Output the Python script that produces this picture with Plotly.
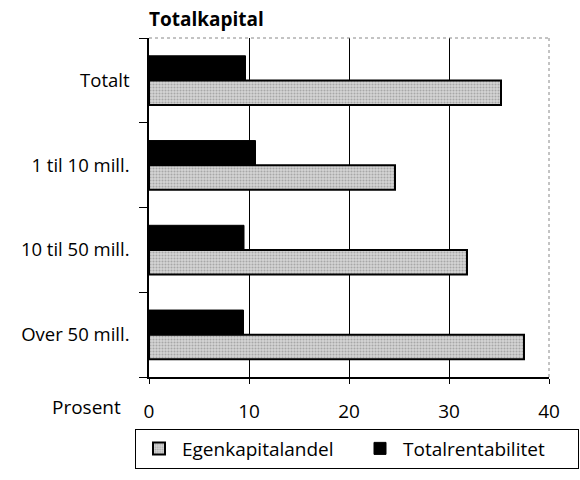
import plotly.graph_objects as go

categories = ["Over 50 mill.", "10 til 50 mill.", "1 til 10 mill.", "Totalt"]
egenkapitalandel = [37.5, 31.8, 24.6, 35.2]
totalrentabilitet = [9.45, 9.5, 10.65, 9.65]
x_ticks = [0, 10, 20, 30, 40]

FONT = "Open Sans"

fig = go.Figure()
fig.add_trace(go.Bar(
    y=categories, x=egenkapitalandel, orientation="h", name="Egenkapitalandel",
    marker=dict(color="#cccccc", line=dict(color="black", width=2),
                pattern=dict(shape=".", fgcolor="#777777", bgcolor="#d6d6d6",
                             size=3, solidity=0.4)),
))
fig.add_trace(go.Bar(
    y=categories, x=totalrentabilitet, orientation="h", name="Totalrentabilitet",
    marker=dict(color="black", line=dict(color="black", width=1)),
))

fig.update_layout(
    width=580, height=480,
    margin=dict(l=149, r=31, t=38, b=87),
    paper_bgcolor="white", plot_bgcolor="white",
    barmode="group", bargap=0.42, bargroupgap=0.0,
    font=dict(family=FONT, size=19, color="black"),
    title=dict(text="<b>Totalkapital</b>", xref="paper", x=0, xanchor="left",
               yref="container", y=0.96, yanchor="middle",
               font=dict(family=FONT, size=19, color="black")),
    xaxis=dict(range=[0, 40], tickvals=x_ticks, showgrid=True, gridcolor="black",
               gridwidth=1, showline=True, linecolor="black", linewidth=1.5,
               ticks="outside", ticklen=5, tickcolor="black", zeroline=False,
               ticklabelstandoff=11, tickfont=dict(size=19), automargin=False),
    yaxis=dict(categoryorder="array", categoryarray=categories, showgrid=False,
               showline=True, linecolor="black", linewidth=1.5,
               ticks="outside", tickson="boundaries", ticklen=8, tickcolor="black",
               ticklabelstandoff=14, tickfont=dict(size=18.5), automargin=False),
    legend=dict(orientation="h", x=-0.035, xanchor="left", y=-0.152, yanchor="top",
                bordercolor="black", borderwidth=1, bgcolor="white",
                font=dict(size=19), itemwidth=36, entrywidth=170,
                entrywidthmode="pixels", traceorder="normal"),
    showlegend=True,
)

# plot frame: dotted grey top and right edges
fig.add_shape(type="line", xref="paper", yref="paper", x0=1, x1=1, y0=0, y1=1,
              line=dict(color="white", width=2), layer="above")
fig.add_shape(type="line", xref="paper", yref="paper", x0=1, x1=1, y0=0, y1=1,
              line=dict(color="#888888", width=1, dash="dot"), layer="above")
fig.add_shape(type="line", xref="paper", yref="paper", x0=0, x1=1, y0=1, y1=1,
              line=dict(color="#888888", width=1, dash="dot"), layer="above")

fig.add_annotation(text="Prosent", xref="paper", yref="paper", x=-0.065, y=-0.089,
                   xanchor="right", yanchor="middle", showarrow=False,
                   font=dict(size=19))

fig.write_html("out.html", config={"displayModeBar": False},
               post_script="document.body.style.margin='0';")
